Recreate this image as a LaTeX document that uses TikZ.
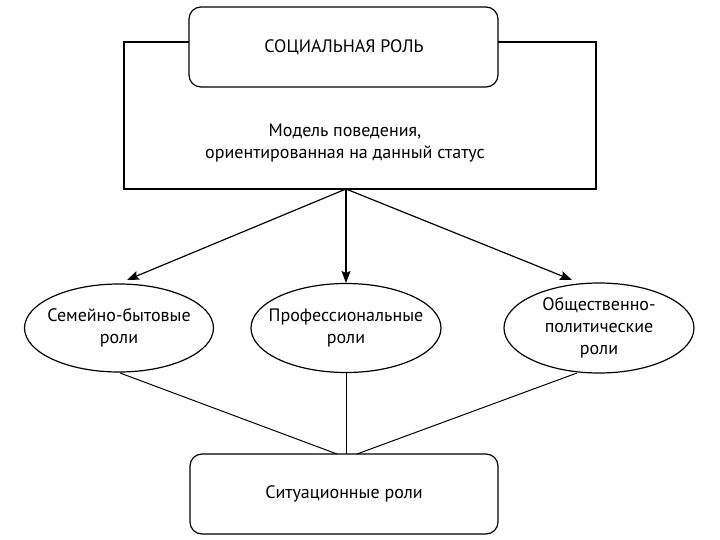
\documentclass[tikz,border=0pt]{standalone}
\usepackage{fontspec}
\setmainfont{PT Sans}
\usetikzlibrary{shapes.geometric,arrows.meta}
\tikzset{
  box/.style={draw, line width=1.2pt, rounded corners=12pt, fill=white, inner sep=0pt},
  bigrect/.style={draw, line width=1.2pt, inner sep=0pt},
  role/.style={draw, ellipse, line width=1.2pt, inner sep=0pt},
  txt/.style={align=center, inner sep=0pt, font=\fontsize{18}{22}\selectfont},
  arr/.style={line width=1.2pt, -{Stealth[length=12pt,width=9pt,inset=2pt]}},
  ln/.style={line width=1pt}
}
\begin{document}
\begin{tikzpicture}[x=1pt,y=-1pt]
\useasboundingbox (0,0) rectangle (720,540);
\node[bigrect, minimum width=472pt, minimum height=147pt] (frame) at (360,115.5) {};
\node[box, minimum width=309pt, minimum height=80pt] (title) at (343.5,47) {};
\node[txt] (titletext) at (344,47) {СОЦИАЛЬНАЯ РОЛЬ};
\node[txt] (model) at (345,143) {Модель поведения,\\ориентированная на данный статус};
\node[role, minimum width=189pt, minimum height=88pt] (fam) at (119,328) {};
\node[role, minimum width=190pt, minimum height=89pt] (prof) at (346,328) {};
\node[role, minimum width=190pt, minimum height=90pt] (pol) at (599,328) {};
\node[txt] (famtext) at (fam.center) {Семейно-бытовые\\роли};
\node[txt] (proftext) at (prof.center) {Профессиональные\\роли};
\node[txt] (poltext) at (pol.center) {Общественно-\\политические\\роли};
\node[box, minimum width=308pt, minimum height=80pt] (sit) at (344,494) {};
\node[txt] (sittext) at (sit.center) {Ситуационные роли};
\coordinate (src) at (346,189);
\coordinate (t1) at (127,280);
\coordinate (t2) at (346,283);
\coordinate (t3) at (572,280);
\draw[arr] (src) -- (t1);
\draw[arr] (src) -- (t2);
\draw[arr] (src) -- (t3);
\coordinate (b1) at (120,373);
\coordinate (b2) at (346,373);
\coordinate (b3) at (577,373);
\coordinate (d1) at (337,454);
\coordinate (d2) at (346,454);
\coordinate (d3) at (357,454);
\draw[ln] (b1) -- (d1);
\draw[ln] (b2) -- (d2);
\draw[ln] (b3) -- (d3);
\end{tikzpicture}
\end{document}
